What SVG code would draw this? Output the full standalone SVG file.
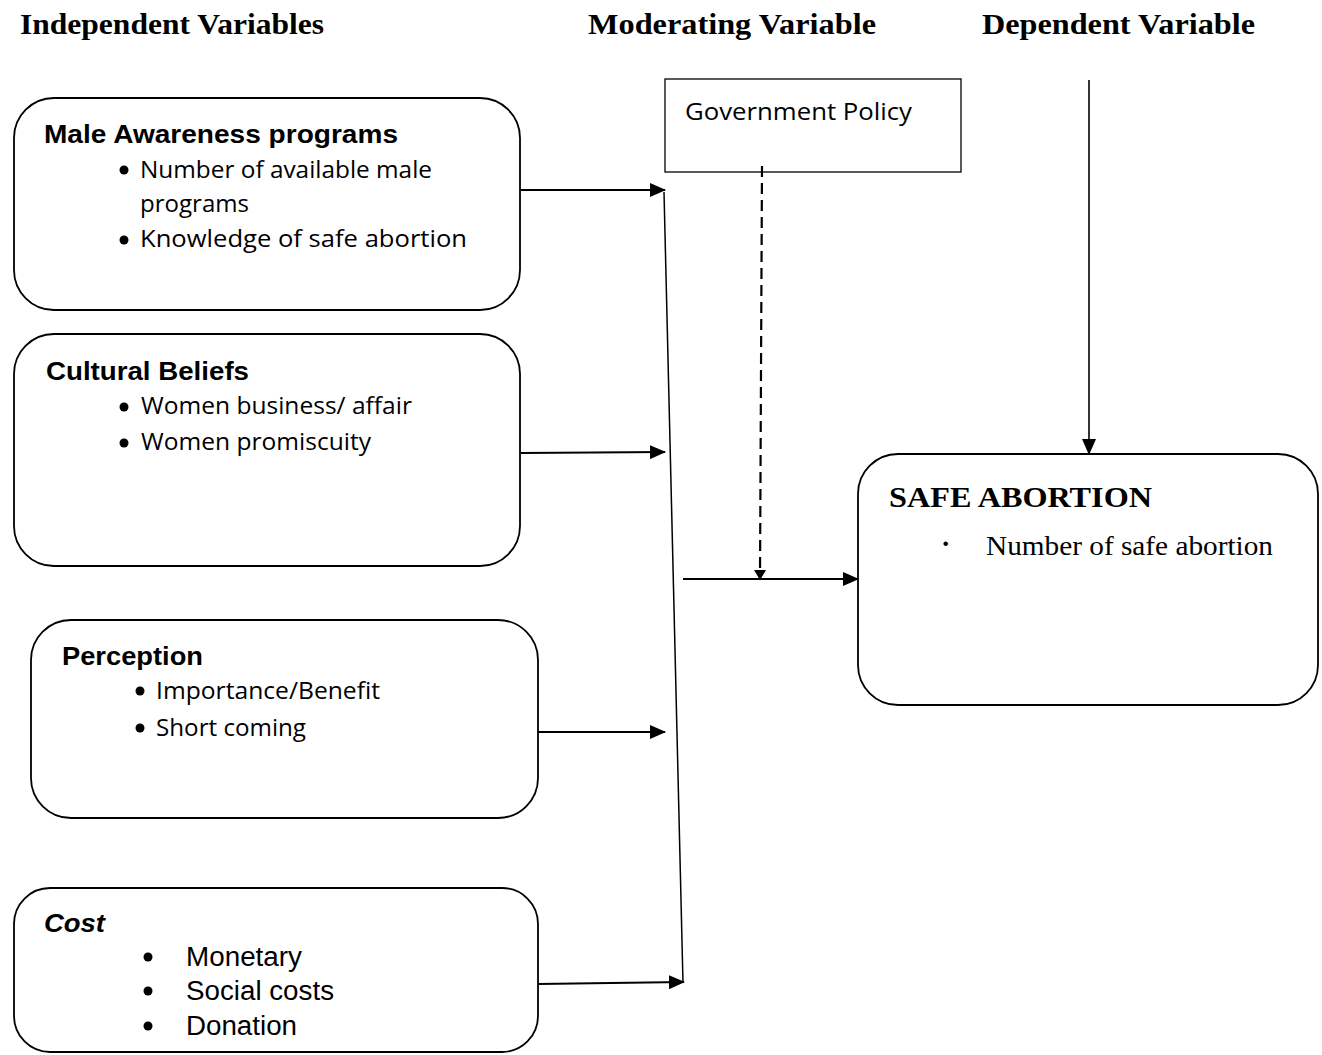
<svg xmlns="http://www.w3.org/2000/svg" width="1322" height="1055" viewBox="0 0 1322 1055">
<style>
.box{fill:#fff;stroke:#000;stroke-width:1.8}
.hdr{font-family:"Liberation Serif",serif;font-weight:bold;font-size:30px}
.ttl{font-family:"Liberation Sans",sans-serif;font-weight:bold;font-size:25px}
.itm{font-family:"Open Sans",sans-serif;font-size:23px}
.arl{font-family:"Liberation Sans",sans-serif;font-size:27px}
.ser{font-family:"Liberation Serif",serif;font-size:28px}
.ln{stroke:#000;stroke-width:2.2;fill:none}
</style>
<defs>
<marker id="ah" markerWidth="10" markerHeight="12" refX="9" refY="6" orient="auto" markerUnits="userSpaceOnUse" viewBox="0 0 10 12">
<path d="M0,0 L10,6 L0,12 Z" fill="#000"/>
</marker>
<marker id="ahb" markerWidth="16" markerHeight="14" refX="15" refY="7" orient="auto" markerUnits="userSpaceOnUse" viewBox="0 0 16 14">
<path d="M0,0 L16,7 L0,14 Z" fill="#000"/>
</marker>
</defs>
<rect width="1322" height="1055" fill="#fff"/>
<text class="hdr" x="20" y="34" textLength="304" lengthAdjust="spacingAndGlyphs">Independent Variables</text>
<text class="hdr" x="588" y="34" textLength="288" lengthAdjust="spacingAndGlyphs">Moderating Variable</text>
<text class="hdr" x="982" y="34" textLength="273" lengthAdjust="spacingAndGlyphs">Dependent Variable</text>

<g id="male">
<rect class="box" x="14" y="98" width="506" height="212" rx="40"/>
<text class="ttl" x="44" y="143" textLength="354" lengthAdjust="spacingAndGlyphs">Male Awareness programs</text>
<circle cx="124" cy="170" r="4.5"/>
<text class="itm" x="140" y="178" textLength="292" lengthAdjust="spacingAndGlyphs">Number of available male</text>
<text class="itm" x="140" y="212" textLength="109" lengthAdjust="spacingAndGlyphs">programs</text>
<circle cx="124" cy="240" r="4.5"/>
<text class="itm" x="140" y="247" textLength="327" lengthAdjust="spacingAndGlyphs">Knowledge of safe abortion</text>
</g>

<g id="cultural">
<rect class="box" x="14" y="334" width="506" height="232" rx="40"/>
<text class="ttl" x="46" y="380" textLength="203" lengthAdjust="spacingAndGlyphs">Cultural Beliefs</text>
<circle cx="124" cy="407" r="4.5"/>
<text class="itm" x="141" y="414" textLength="271" lengthAdjust="spacingAndGlyphs">Women business/ affair</text>
<circle cx="124" cy="443" r="4.5"/>
<text class="itm" x="141" y="450" textLength="230" lengthAdjust="spacingAndGlyphs">Women promiscuity</text>
</g>

<g id="perception">
<rect class="box" x="31" y="620" width="507" height="198" rx="40"/>
<text class="ttl" x="62" y="665" textLength="141" lengthAdjust="spacingAndGlyphs">Perception</text>
<circle cx="140" cy="691" r="4.5"/>
<text class="itm" x="156" y="699" textLength="224" lengthAdjust="spacingAndGlyphs">Importance/Benefit</text>
<circle cx="140" cy="728" r="4.5"/>
<text class="itm" x="156" y="736" textLength="150" lengthAdjust="spacingAndGlyphs">Short coming</text>
</g>

<g id="cost">
<rect class="box" x="14" y="888" width="524" height="164" rx="36"/>
<text class="ttl" x="44" y="932" font-style="italic" textLength="61" lengthAdjust="spacingAndGlyphs">Cost</text>
<circle cx="148" cy="957" r="4.5"/>
<text class="arl" x="186" y="966" textLength="116" lengthAdjust="spacingAndGlyphs">Monetary</text>
<circle cx="148" cy="991" r="4.5"/>
<text class="arl" x="186" y="1000" textLength="148" lengthAdjust="spacingAndGlyphs">Social costs</text>
<circle cx="148" cy="1026" r="4.5"/>
<text class="arl" x="186" y="1035" textLength="111" lengthAdjust="spacingAndGlyphs">Donation</text>
</g>

<g id="policy">
<rect x="665" y="79" width="296" height="93" fill="#fff" stroke="#000" stroke-width="1.3"/>
<text class="itm" x="685" y="120" textLength="227" lengthAdjust="spacingAndGlyphs">Government Policy</text>
</g>

<g id="safe">
<rect class="box" x="858" y="454" width="460" height="251" rx="40"/>
<text class="hdr" x="889" y="507" font-size="32" textLength="263" lengthAdjust="spacingAndGlyphs">SAFE ABORTION</text>
<text class="ser" x="941" y="553" font-weight="bold">·</text>
<text class="ser" x="986" y="555" textLength="287" lengthAdjust="spacingAndGlyphs">Number of safe abortion</text>
</g>

<g id="connectors">
<line class="ln" x1="521" y1="190" x2="665" y2="190" marker-end="url(#ahb)"/>
<line class="ln" x1="521" y1="453" x2="665" y2="452" marker-end="url(#ahb)"/>
<line class="ln" x1="538" y1="732" x2="665" y2="732" marker-end="url(#ahb)"/>
<line class="ln" x1="538" y1="984" x2="684" y2="982" marker-end="url(#ahb)"/>
<line x1="664" y1="192" x2="683" y2="983" stroke="#000" stroke-width="1.5"/>
<line class="ln" x1="762" y1="166" x2="760" y2="579" stroke-dasharray="11,6" marker-end="url(#ah)"/>
<line class="ln" x1="683" y1="579" x2="858" y2="579" marker-end="url(#ahb)"/>
<line x1="1089" y1="80" x2="1089" y2="454" stroke="#000" stroke-width="1.6" marker-end="url(#ahb)"/>
</g>
</svg>
